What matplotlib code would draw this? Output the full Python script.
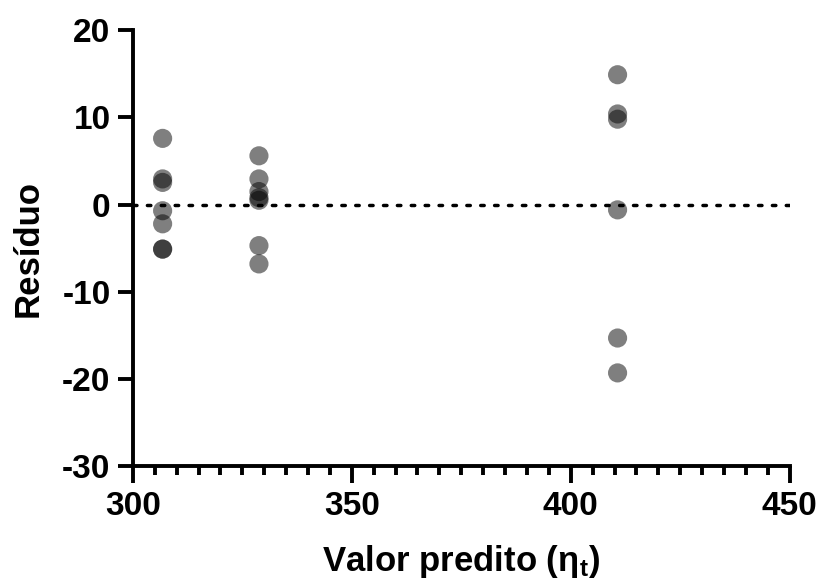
import matplotlib
matplotlib.use("Agg")
import matplotlib.pyplot as plt
from matplotlib.ticker import MultipleLocator

plt.rcParams['font.family'] = ['Liberation Sans', 'DejaVu Sans']
plt.rcParams['font.weight'] = 'bold'
plt.rcParams['axes.unicode_minus'] = False
plt.rcParams['mathtext.fontset'] = 'custom'
plt.rcParams['mathtext.rm'] = 'Liberation Sans:bold'
plt.rcParams['mathtext.bf'] = 'Liberation Sans:bold'
plt.rcParams['mathtext.it'] = 'Liberation Sans:bold'

# Predicted values (one per group) and their residuals
predicted = [306.8, 328.8, 410.7]
residuals = [
    [7.6, 2.95, 2.55, -0.7, -2.2, -5.1, -5.1],
    [5.6, 2.95, 1.5, 0.8, 0.5, -4.7, -6.8],
    [14.9, 10.4, 9.8, -0.6, -15.3, -19.3],
]

fig = plt.figure(figsize=(8.2, 5.82), dpi=100)
ax = fig.add_axes([0.162, 0.199, 0.801, 0.749])

for xv, res in zip(predicted, residuals):
    ax.scatter([xv] * len(res), res, s=190, color='black', alpha=0.5,
               edgecolors='none', zorder=3)

ax.axhline(0, color='black', lw=2.5, ls=(0, (1, 3.0)), dash_capstyle='round', zorder=2)

ax.set_xlim(300, 450)
ax.set_ylim(-30, 20)
ax.xaxis.set_major_locator(MultipleLocator(50))
ax.xaxis.set_minor_locator(MultipleLocator(5))
ax.yaxis.set_major_locator(MultipleLocator(10))

for side in ('top', 'right'):
    ax.spines[side].set_visible(False)
for side in ('left', 'bottom'):
    ax.spines[side].set_linewidth(2.8)

ax.tick_params(axis='x', which='major', length=12, width=2.8, labelsize=24, pad=6)
ax.tick_params(axis='y', which='major', length=11, width=2.8, labelsize=24, pad=5)
ax.tick_params(axis='x', which='minor', length=6.5, width=2.8)

ax.set_xlabel('Valor predito (η$_{t}$)', fontsize=25, fontweight='bold', va='center')
ax.set_ylabel('Resíduo', fontsize=25, fontweight='bold', va='center')
ax.xaxis.set_label_coords(0.5, -0.218)
ax.yaxis.set_label_coords(-0.16, 0.5)

fig.savefig('out.png', dpi=100)
